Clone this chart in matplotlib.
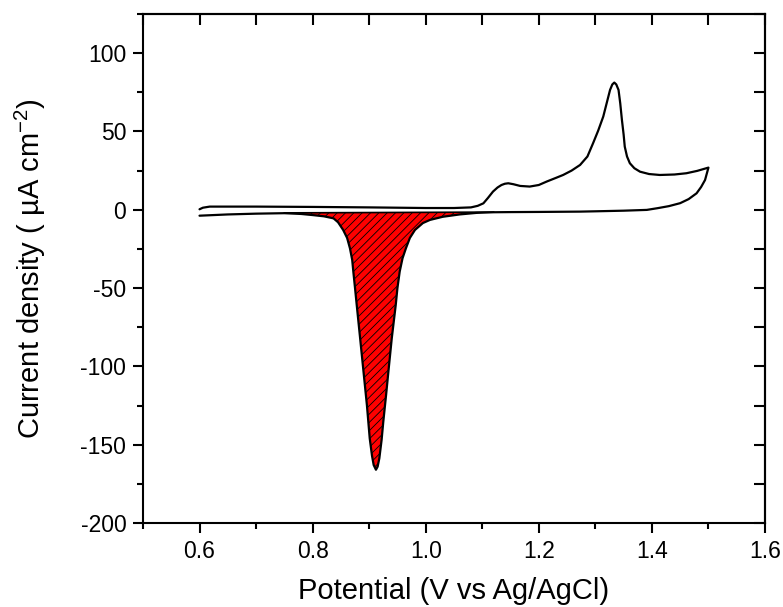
import numpy as np
import matplotlib.pyplot as plt
from matplotlib.ticker import MultipleLocator

plt.rcParams['font.family'] = ['Liberation Sans', 'DejaVu Sans']
plt.rcParams['axes.unicode_minus'] = False
plt.rcParams['mathtext.default'] = 'regular'
plt.rcParams['hatch.linewidth'] = 0.6

# forward (anodic) scan, V vs Ag/AgCl and uA cm-2
fwd_e = [0.600, 0.606, 0.618, 0.700, 0.800, 0.900, 1.000, 1.050, 1.080, 1.092,
         1.102, 1.110, 1.119, 1.127, 1.134, 1.140, 1.146, 1.155, 1.167, 1.184,
         1.200, 1.214, 1.230, 1.243, 1.258, 1.273, 1.286, 1.296, 1.305, 1.314,
         1.320, 1.326, 1.330, 1.3335, 1.337, 1.341, 1.344, 1.347, 1.350, 1.352,
         1.356, 1.361, 1.369, 1.379, 1.395, 1.414, 1.440, 1.461, 1.480, 1.500]
fwd_j = [0.3, 1.3, 2.0, 2.0, 1.8, 1.5, 1.1, 1.1, 1.5, 2.5,
         4.1, 7.5, 11.6, 14.2, 15.8, 16.6, 16.9, 16.3, 15.2, 14.8,
         15.8, 18.0, 20.3, 22.2, 25.0, 28.6, 34.0, 42.5, 50.5, 59.5,
         68.0, 76.5, 80.0, 81.2, 80.0, 76.5, 68.0, 57.3, 48.0, 40.3,
         34.0, 29.7, 26.5, 24.3, 22.8, 22.2, 22.5, 23.3, 24.8, 26.9]

# reverse (cathodic) scan
rev_e = [1.494, 1.487, 1.479, 1.465, 1.450, 1.430, 1.410, 1.391, 1.350, 1.300,
         1.273, 1.200, 1.150, 1.120, 1.090, 1.060, 1.030, 1.0075, 0.995, 0.981,
         0.972, 0.965, 0.959, 0.954, 0.950, 0.947, 0.940, 0.934, 0.930, 0.925,
         0.922, 0.918, 0.915, 0.912, 0.908, 0.905, 0.901, 0.896, 0.890, 0.884,
         0.878, 0.875, 0.872, 0.870, 0.866, 0.861, 0.854, 0.845, 0.837, 0.820,
         0.800, 0.780, 0.750, 0.700, 0.650, 0.600]
rev_j = [19.0, 14.5, 10.5, 6.8, 4.2, 2.3, 1.0, -0.1, -0.6, -1.0,
         -1.2, -1.4, -1.5, -1.6, -2.0, -3.0, -4.5, -6.5, -8.5, -12.9,
         -18.0, -24.6, -31.0, -39.5, -50.0, -60.8, -82.0, -103.4, -118.0, -135.3,
         -147.0, -158.7, -164.0, -166.0, -163.0, -157.0, -146.0, -124.7, -103.4, -82.0,
         -60.8, -50.0, -39.5, -32.0, -24.6, -18.0, -12.9, -8.0, -5.5, -4.2,
         -3.4, -2.7, -2.2, -2.5, -3.0, -3.8]

# straight baseline under the shaded reduction peak
base_e = [0.750, 1.120]
base_j = [-2.0, -1.5]

fig = plt.figure(figsize=(7.83, 6.07), dpi=100)
ax = fig.add_axes([0.1826, 0.1384, 0.7944, 0.8386])

e_all = fwd_e + rev_e
j_all = fwd_j + rev_j
ax.plot(e_all, j_all, color='black', lw=1.6, zorder=3,
        solid_joinstyle='round', solid_capstyle='round')
ax.plot(base_e, base_j, color='black', lw=1.2, zorder=3)

re = np.array(rev_e)
rj = np.array(rev_j)
sel = (re > base_e[0]) & (re < base_e[1])
slope = (base_j[1] - base_j[0]) / (base_e[1] - base_e[0])
pe = np.concatenate([[base_e[1]], re[sel], [base_e[0]]])
pj = np.concatenate([[base_j[1]], rj[sel], [base_j[0]]])
bl = base_j[0] + slope * (pe - base_e[0])
ax.fill_between(pe, pj, bl, facecolor='red', edgecolor='black', hatch='////',
                linewidth=0, zorder=2)

ax.set_xlim(0.5, 1.6)
ax.set_ylim(-200, 125)
ax.xaxis.set_major_locator(MultipleLocator(0.2))
ax.xaxis.set_minor_locator(MultipleLocator(0.1))
ax.yaxis.set_minor_locator(MultipleLocator(25))
ax.set_yticks([-200, -150, -100, -50, 0, 50, 100])
ax.xaxis.set_major_formatter(plt.FuncFormatter(lambda v, p: f'{v:.1f}'))

ax.tick_params(which='major', direction='out', length=7, width=1.5,
               labelsize=16.5, pad=5)
ax.tick_params(which='minor', direction='out', length=4, width=1.5)
for s in ax.spines.values():
    s.set_linewidth(1.5)

top = ax.secondary_xaxis('top')
top.xaxis.set_major_locator(MultipleLocator(0.1))
top.tick_params(direction='in', length=8, width=1.5, labeltop=False)
top.spines['top'].set_linewidth(1.5)
right = ax.secondary_yaxis('right')
right.yaxis.set_major_locator(MultipleLocator(25))
right.tick_params(direction='in', length=8, width=1.5, labelright=False)
right.spines['right'].set_linewidth(1.5)

ax.set_xlabel('Potential (V vs Ag/AgCl)', fontsize=21)
ax.set_ylabel('Current density ( \u00b5A cm$^{-2}$)', fontsize=21)
ax.xaxis.set_label_coords(0.5, -0.134)
ax.xaxis.label.set_va('center')
ax.yaxis.set_label_coords(-0.181, 0.5)
ax.yaxis.label.set_va('center')

fig.savefig('out.png', dpi=100)
